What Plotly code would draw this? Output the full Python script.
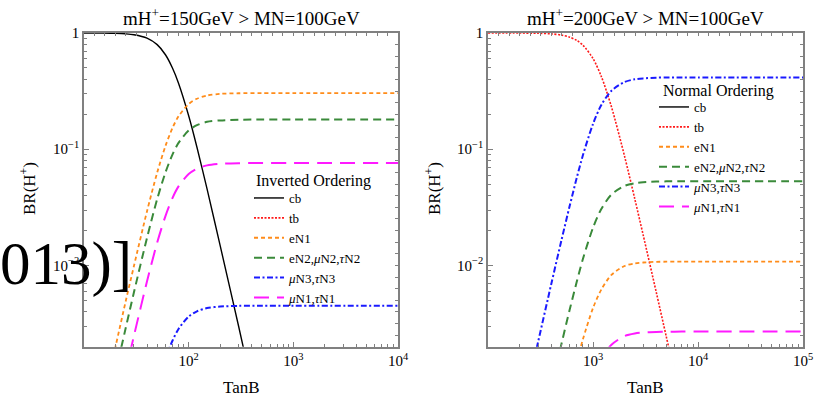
import plotly.graph_objects as go

# ---------------- data ----------------
tanB_L = [10, 15, 20, 25, 30, 40, 50, 60, 70, 80, 100, 120, 150, 200, 300, 500, 1000, 10000]
cb_L   = [1.0, 0.998, 0.993, 0.984, 0.967, 0.904, 0.794, 0.65, 0.50, 0.37, 0.194, 0.104, 0.0453, 0.0148, 0.0030, 0.00038, 0.000024, 2.4e-9]
eN1_L  = [0.000127, 0.00064, 0.0020, 0.0049, 0.0099, 0.0293, 0.0628, 0.1066, 0.152, 0.192, 0.245, 0.272, 0.290, 0.2995, 0.303, 0.304, 0.304, 0.304]
eN2_L  = [0.000075, 0.00038, 0.00119, 0.00288, 0.00587, 0.0173, 0.0372, 0.0631, 0.090, 0.1135, 0.145, 0.161, 0.172, 0.177, 0.1795, 0.18, 0.18, 0.18]
muN3_L = [0.0000019, 0.0000095, 0.00003, 0.000072, 0.000147, 0.00043, 0.00093, 0.00158, 0.00225, 0.00284, 0.00363, 0.00403, 0.0043, 0.00443, 0.00449, 0.0045, 0.0045, 0.0045]
muN1_L = [0.0000316, 0.00016, 0.0005, 0.00122, 0.00248, 0.0073, 0.0157, 0.0266, 0.038, 0.0479, 0.0613, 0.0681, 0.0726, 0.0749, 0.0758, 0.076, 0.076, 0.076]

tanB_R = [100, 200, 300, 400, 500, 600, 700, 800, 1000, 1200, 1500, 2000, 2500, 3000, 4000, 5000, 7000, 10000, 100000]
tb_R   = [1.0, 0.999, 0.995, 0.983, 0.960, 0.921, 0.864, 0.788, 0.603, 0.423, 0.231, 0.0867, 0.0374, 0.0184, 0.0059, 0.00242, 0.00063, 0.00015, 1.5e-8]
eN1_R  = [0.0000007, 0.0000114, 0.000057, 0.00018, 0.00043, 0.00085, 0.00147, 0.0023, 0.0043, 0.0062, 0.0083, 0.0099, 0.0104, 0.0106, 0.01074, 0.01077, 0.0108, 0.0108, 0.0108]
eN2_R  = [0.0000035, 0.000056, 0.00028, 0.00088, 0.0021, 0.00417, 0.00723, 0.0113, 0.0211, 0.0306, 0.0408, 0.0484, 0.051, 0.052, 0.0527, 0.0529, 0.053, 0.053, 0.053]
muN3_R = [0.000027, 0.00044, 0.0022, 0.0069, 0.0164, 0.0326, 0.0567, 0.0882, 0.165, 0.240, 0.319, 0.379, 0.3995, 0.407, 0.4126, 0.414, 0.4147, 0.415, 0.415]
muN1_R = [0.00000018, 0.0000028, 0.0000143, 0.000045, 0.000107, 0.00021, 0.00037, 0.00057, 0.00107, 0.00156, 0.00208, 0.00247, 0.0026, 0.00265, 0.00268, 0.00269, 0.0027, 0.0027, 0.0027]

series_names = ["cb", "tb", "eN1", "eN2,<i>μ</i>N2,<i>τ</i>N2", "<i>μ</i>N3,<i>τ</i>N3", "<i>μ</i>N1,<i>τ</i>N1"]
titles = ["mH<sup>+</sup>=150GeV > MN=100GeV", "mH<sup>+</sup>=200GeV > MN=100GeV"]
legend_titles = ["Inverted Ordering", "Normal Ordering"]
x_ticks_L = [100, 1000, 10000]
x_ticks_R = [1000, 10000, 100000]
x_ticktext_L = ["10<sup>2</sup>", "10<sup>3</sup>", "10<sup>4</sup>"]
x_ticktext_R = ["10<sup>3</sup>", "10<sup>4</sup>", "10<sup>5</sup>"]
y_ticks = [1, 0.1, 0.01]
y_ticktext = ["1", "10<sup>−1</sup>", "10<sup>−2</sup>"]

# ---------------- styles ----------------
FONT = "Liberation Serif"
styles = {
    "cb":   dict(color="#000000", width=1.4, dash="solid"),
    "tb":   dict(color="#ff1a1a", width=1.6, dash="2px,1.5px"),
    "eN1":  dict(color="#ff8c1a", width=1.8, dash="4px,3px"),
    "eN2":  dict(color="#3a8a3a", width=2.0, dash="8px,5px"),
    "muN3": dict(color="#1a1aff", width=2.0, dash="6px,2.5px,2px,2.5px"),
    "muN1": dict(color="#ff1aff", width=2.0, dash="15px,8px"),
}
keys = ["cb", "tb", "eN1", "eN2", "muN3", "muN1"]

fig = go.Figure()

left_data = {"cb": cb_L, "tb": None, "eN1": eN1_L, "eN2": eN2_L, "muN3": muN3_L, "muN1": muN1_L}
right_data = {"cb": None, "tb": tb_R, "eN1": eN1_R, "eN2": eN2_R, "muN3": muN3_R, "muN1": muN1_R}

for panel, (xs, data, xa, ya, leg) in enumerate([
        (tanB_L, left_data, "x", "y", "legend"),
        (tanB_R, right_data, "x2", "y2", "legend2")]):
    for k, name in zip(keys, series_names):
        vals = data[k]
        if vals is None:
            xx, yy = [None], [None]
        else:
            xx, yy = xs, vals
        fig.add_trace(go.Scatter(
            x=xx, y=yy, mode="lines", name=name,
            line=dict(shape="spline", smoothing=0.8, **styles[k]),
            xaxis=xa, yaxis=ya, legend=leg, hoverinfo="skip"))

# dummy traces for top/right uniform tick overlays
fig.add_trace(go.Scatter(x=[100], y=[0.1], xaxis="x3", yaxis="y3", mode="markers",
                         marker=dict(opacity=0), showlegend=False, hoverinfo="skip"))
fig.add_trace(go.Scatter(x=[1000], y=[0.1], xaxis="x4", yaxis="y4", mode="markers",
                         marker=dict(opacity=0), showlegend=False, hoverinfo="skip"))

W, H = 815, 396
def px(x): return x / W
def py(y): return 1 - y / H

xdomL = [px(84), px(398)]
xdomR = [px(488), px(803)]
ydom = [py(346.7), py(33)]
yrange = [-2.699, 0]

frame = dict(showline=True, linecolor="#808080", linewidth=1.5, mirror=True,
             showgrid=False, zeroline=False, ticks="inside", ticklen=5,
             tickcolor="#808080", tickwidth=1,
             tickfont=dict(family=FONT, size=15, color="black"))

minor_x_L = [m * 10 ** e for e in range(1, 4) for m in range(2, 10)]
minor_x_R = [m * 10 ** e for e in range(2, 5) for m in range(2, 10)]
minor_y = [m * 10 ** e for e in range(-3, 0) for m in range(2, 10)]
minor_style = dict(ticks="inside", ticklen=3, tickcolor="#808080", tickwidth=1)

top_L = [10 ** (k / 10) for k in range(10, 41)]
top_R = [10 ** (k / 10) for k in range(20, 51)]
right_y = [10 ** (k / 10) for k in range(-27, 1)]
overlay = dict(showline=False, showgrid=False, zeroline=False, ticks="inside", ticklen=3,
               tickcolor="#808080", tickwidth=1, showticklabels=False, tickmode="array")

LEG_FONT = 13
leg_common = dict(xanchor="left", yanchor="top", bgcolor="rgba(0,0,0,0)",
                  font=dict(family=FONT, size=LEG_FONT), tracegroupgap=0, itemwidth=30)
fig.update_layout(
    width=W, height=H, margin=dict(l=0, r=0, t=0, b=0, autoexpand=False),
    paper_bgcolor="white", plot_bgcolor="white",
    font=dict(family=FONT, color="black"),
    xaxis=dict(type="log", range=[1, 4], domain=xdomL, anchor="y",
               tickvals=x_ticks_L, ticktext=x_ticktext_L,
               minor=dict(tickvals=minor_x_L, **minor_style), **frame),
    yaxis=dict(type="log", range=yrange, domain=ydom, anchor="x",
               tickvals=y_ticks, ticktext=y_ticktext,
               minor=dict(tickvals=minor_y, **minor_style), **frame),
    xaxis2=dict(type="log", range=[2, 5], domain=xdomR, anchor="y2",
                tickvals=x_ticks_R, ticktext=x_ticktext_R,
                minor=dict(tickvals=minor_x_R, **minor_style), **frame),
    yaxis2=dict(type="log", range=yrange, domain=ydom, anchor="x2",
                tickvals=y_ticks, ticktext=y_ticktext,
                minor=dict(tickvals=minor_y, **minor_style), **frame),
    xaxis3=dict(type="log", range=[1, 4], overlaying="x", side="top", anchor="y",
                tickvals=top_L, **overlay),
    yaxis3=dict(type="log", range=yrange, overlaying="y", side="right", anchor="x",
                tickvals=right_y, **overlay),
    xaxis4=dict(type="log", range=[2, 5], overlaying="x2", side="top", anchor="y2",
                tickvals=top_R, **overlay),
    yaxis4=dict(type="log", range=yrange, overlaying="y2", side="right", anchor="x2",
                tickvals=right_y, **overlay),
    legend=dict(x=px(249), y=py(183), **leg_common),
    legend2=dict(x=px(654), y=py(92), **leg_common),
)

def ann(text, x, y, size, angle=0):
    return dict(text=text, x=px(x), y=py(y), xref="paper", yref="paper",
                xanchor="center", yanchor="middle", showarrow=False, textangle=angle,
                font=dict(family=FONT, size=size, color="black"))

anns = []
for i, cx in enumerate([(84 + 398) / 2, (488 + 803) / 2]):
    anns.append(ann(titles[i], cx, 17, 19))
    anns.append(ann("TanB", cx, 387, 17))
for bx in [28, 433]:
    anns.append(ann("BR(H<sup>+</sup>)", bx, 189, 17, -90))
anns.append(ann(legend_titles[0], 313, 181, 16))
anns.append(ann(legend_titles[1], 718, 91, 16))
# leftover text fragment visible in the reference image
anns.append(ann("013)]", 66, 264, 61))
fig.update_layout(annotations=anns)

fig.write_html("out.html", config={"displayModeBar": False},
               post_script="document.body.style.margin='0px';")
